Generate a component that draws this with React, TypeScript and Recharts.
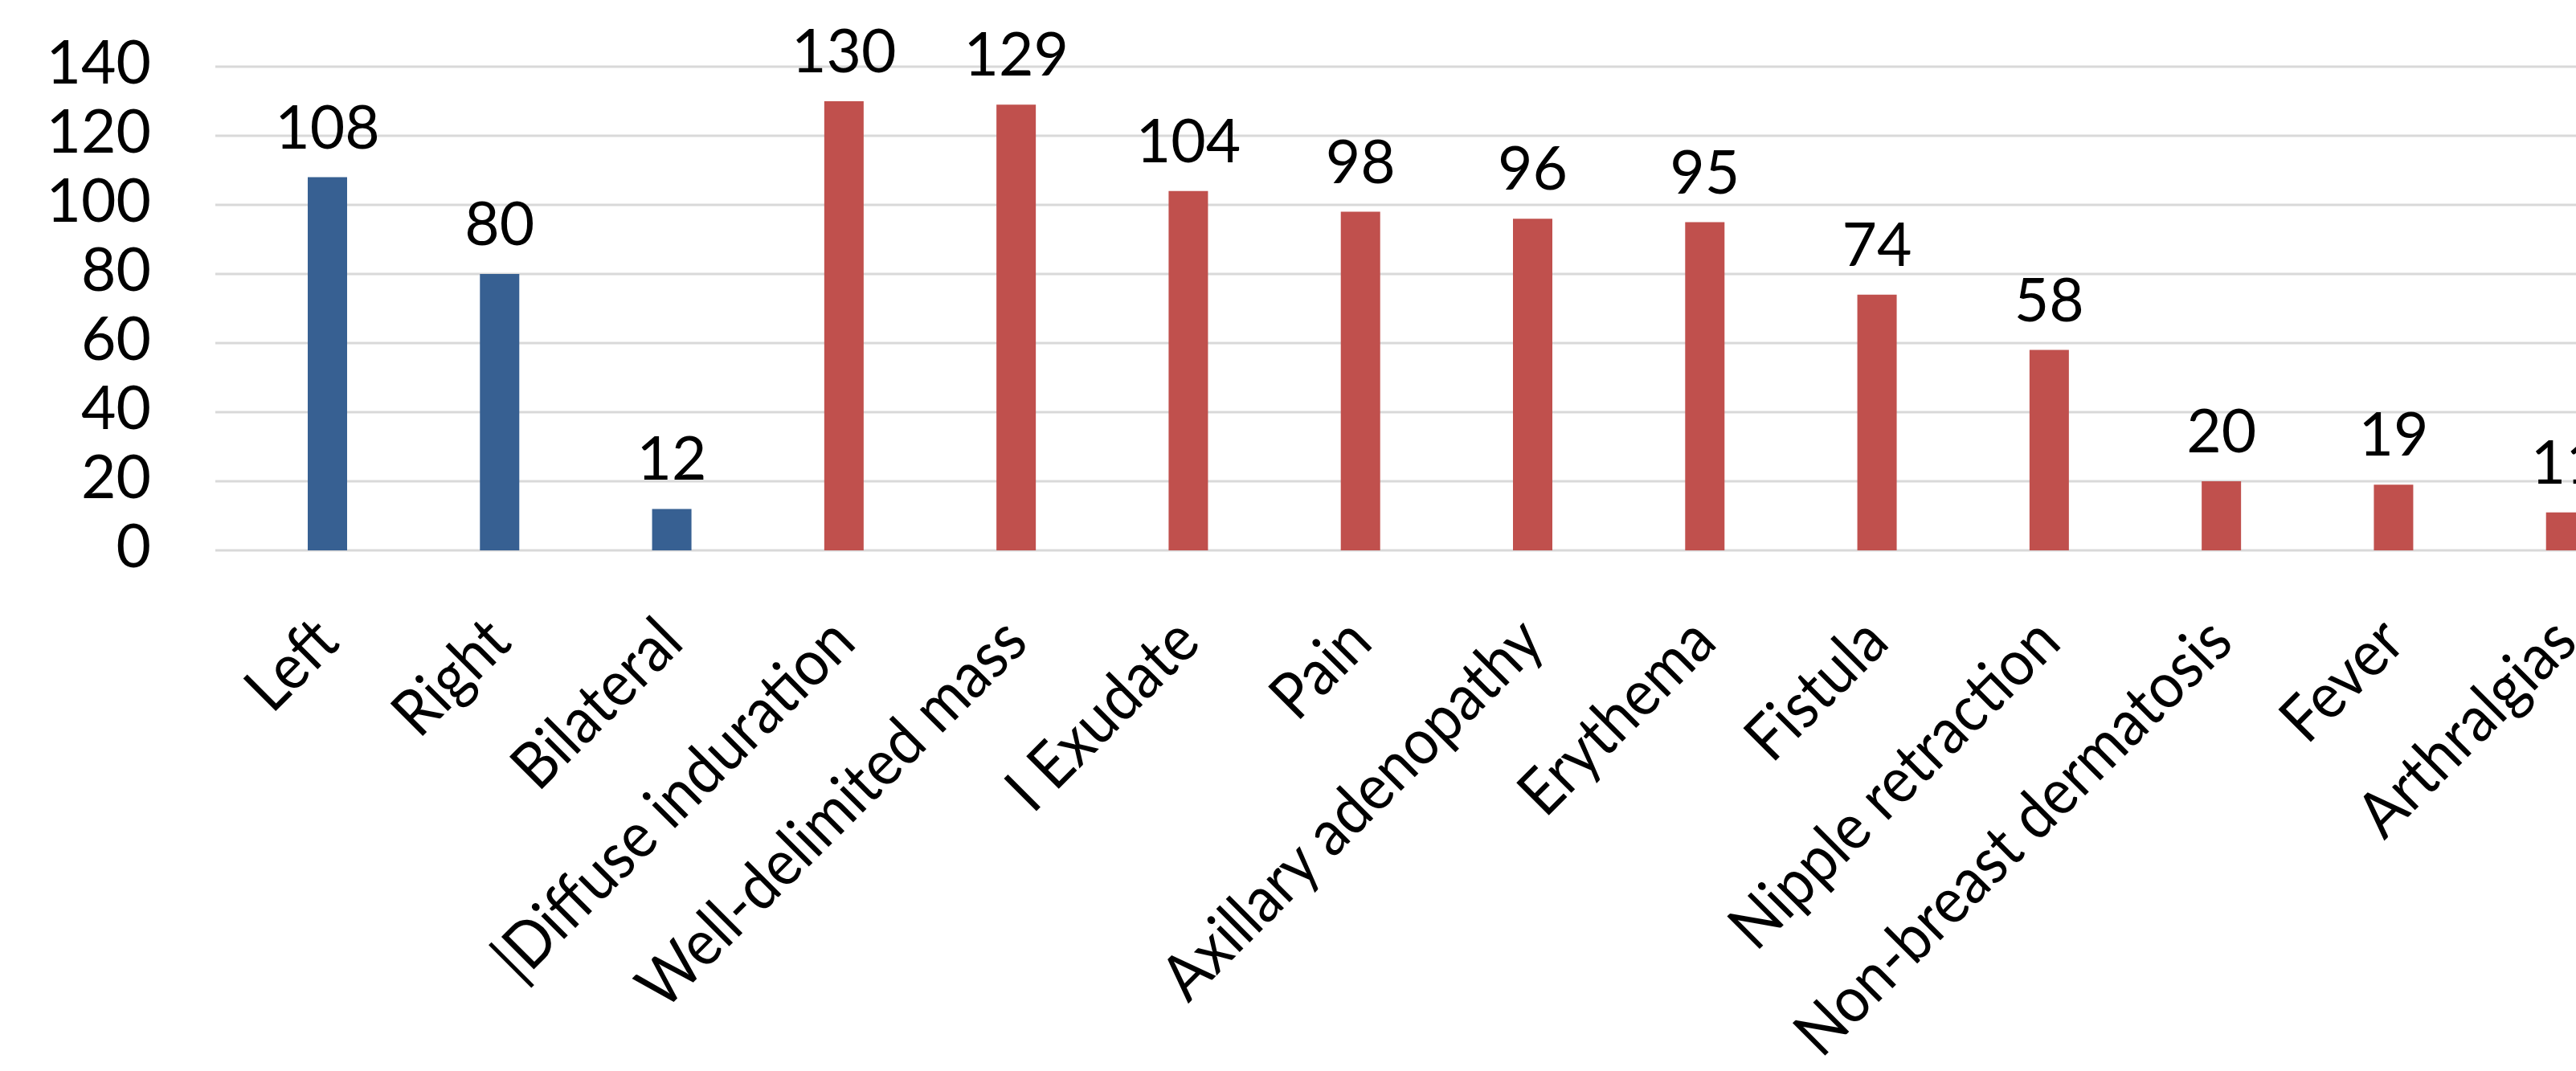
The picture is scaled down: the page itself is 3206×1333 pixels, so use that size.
import React from "react";
import { Bar, BarChart, CartesianGrid, Cell, LabelList, XAxis, YAxis } from "recharts";

const sideLabels = ["Left", "Right", "Bilateral"];
const sideValues = [108, 80, 12];
const symptomLabels = [
  "|Diffuse induration",
  "Well-delimited mass",
  "I Exudate",
  "Pain",
  "Axillary adenopathy",
  "Erythema",
  "Fistula",
  "Nipple retraction",
  "Non-breast dermatosis",
  "Fever",
  "Arthralgias",
];
const symptomValues = [130, 129, 104, 98, 96, 95, 74, 58, 20, 19, 11];
const yTicks = [0, 20, 40, 60, 80, 100, 120, 140];

const groupColors: Record<string, string> = {
  side: "#376092",
  symptom: "#C0504D",
};

const data = [
  ...sideLabels.map((name, i) => ({ name, value: sideValues[i], group: "side" })),
  ...symptomLabels.map((name, i) => ({ name, value: symptomValues[i], group: "symptom" })),
];

const FONT = "Lato, 'Open Sans', sans-serif";

// rotated category labels, anchored at their end just below the axis
// (slightly condensed so Lato runs closer to the original's narrower face)
const CategoryTick = ({ x, y, payload }: any) => {
  const ax = x + 18;
  const ay = y + 116;
  return (
    <text
      x={0}
      y={0}
      transform={`translate(${ax}, ${ay}) rotate(-45) scale(0.91, 1)`}
      textAnchor="end"
      fontFamily={FONT}
      fontSize={80}
      fill="#000"
    >
      {payload.value}
    </text>
  );
};

const ValueTick = ({ x, y, payload }: any) => (
  <text x={x} y={y + 21} textAnchor="end" fontFamily={FONT} fontSize={75} fill="#000">
    {payload.value}
  </text>
);

const App = () => {
  return (
    <div
      style={{
        position: "fixed",
        left: 0,
        top: 0,
        width: 3206,
        height: 1333,
        overflow: "hidden",
        background: "#fff",
      }}
    >
      <BarChart
        width={3300}
        height={1333}
        data={data}
        margin={{ top: 83, right: 0, bottom: 0, left: 0 }}
      >
        <CartesianGrid vertical={false} stroke="#D9D9D9" strokeWidth={3} />
        <XAxis
          dataKey="name"
          interval={0}
          height={648}
          axisLine={false}
          tickLine={false}
          tickSize={0}
          padding={{ left: 32, right: 0 }}
          tick={<CategoryTick />}
        />
        <YAxis
          width={268}
          domain={[0, 140]}
          ticks={yTicks}
          axisLine={false}
          tickLine={false}
          tickSize={0}
          tickMargin={80}
          tick={<ValueTick />}
        />
        <Bar dataKey="value" barSize={49} isAnimationActive={false}>
          {data.map((d, i) => (
            <Cell key={i} fill={groupColors[d.group]} />
          ))}
          <LabelList
            dataKey="value"
            position="top"
            offset={36}
            fontFamily={FONT}
            fontSize={75}
            fill="#000"
          />
        </Bar>
      </BarChart>
    </div>
  );
};

export default App;
